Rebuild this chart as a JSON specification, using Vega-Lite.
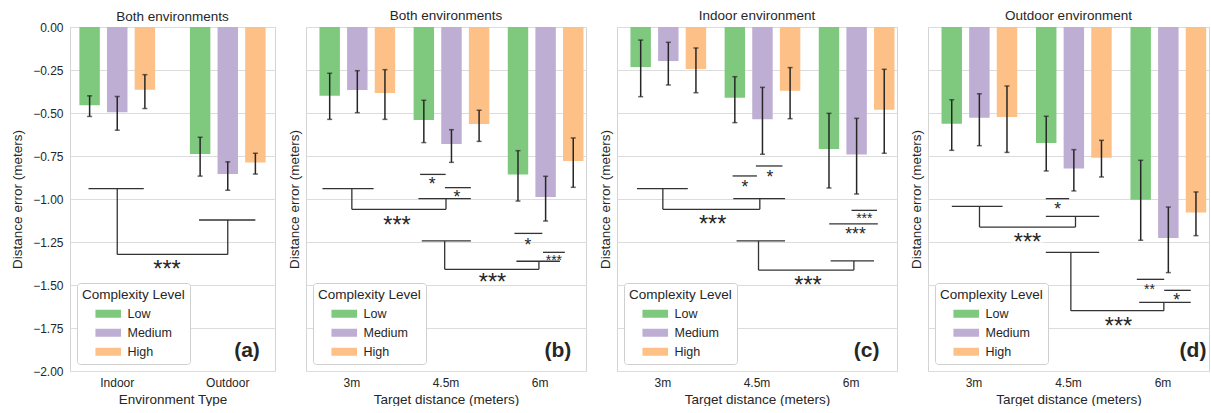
{
  "$schema": "https://vega.github.io/schema/vega-lite/v6.json",
  "padding": {"left": 10, "top": 8, "right": 0, "bottom": 0},
  "background": "white",
  "config": {
    "font": "Liberation Sans",
    "view": {"stroke": "#d4d4d4", "strokeWidth": 1},
    "axis": {"labelFontSize": 12, "labelColor": "#262626", "titleFontSize": 13.5, "titleFontWeight": "normal", "titleColor": "#262626", "ticks": false, "tickSize": 0, "domain": false, "gridColor": "#dcdcdc", "gridWidth": 1},
    "axisX": {"grid": false, "labelPadding": 6, "titlePadding": 4, "labelAngle": 0},
    "axisY": {"grid": true, "labelPadding": 7},
    "legend": {"orient": "bottom-left", "offset": 7, "fillColor": "white", "strokeColor": "#cfcfcf", "cornerRadius": 3, "padding": 5, "titleFontSize": 13.5, "titleFontWeight": "normal", "titleColor": "#262626", "titlePadding": 6, "labelFontSize": 12.5, "labelColor": "#262626", "labelOffset": 13, "symbolType": "M-2.56,-0.8H2.56V0.8H-2.56Z", "symbolSize": 100, "symbolOffset": 20, "symbolStrokeWidth": 0, "symbolOpacity": 1, "rowPadding": 6},
    "title": {"fontSize": 13.5, "fontWeight": "normal", "color": "#262626", "offset": 5, "baseline": "alphabetic", "frame": "group"}
  },
  "datasets": {
    "bars": [
      {"panel": "a", "cat": "Indoor", "level": "Low", "mean": -0.455, "hi": -0.400, "lo": -0.520},
      {"panel": "a", "cat": "Indoor", "level": "Medium", "mean": -0.495, "hi": -0.404, "lo": -0.600},
      {"panel": "a", "cat": "Indoor", "level": "High", "mean": -0.365, "hi": -0.277, "lo": -0.474},
      {"panel": "a", "cat": "Outdoor", "level": "Low", "mean": -0.739, "hi": -0.641, "lo": -0.867},
      {"panel": "a", "cat": "Outdoor", "level": "Medium", "mean": -0.854, "hi": -0.784, "lo": -0.949},
      {"panel": "a", "cat": "Outdoor", "level": "High", "mean": -0.788, "hi": -0.734, "lo": -0.855},
      {"panel": "b", "cat": "3m", "level": "Low", "mean": -0.399, "hi": -0.269, "lo": -0.537},
      {"panel": "b", "cat": "3m", "level": "Medium", "mean": -0.366, "hi": -0.254, "lo": -0.498},
      {"panel": "b", "cat": "3m", "level": "High", "mean": -0.384, "hi": -0.248, "lo": -0.537},
      {"panel": "b", "cat": "4.5m", "level": "Low", "mean": -0.541, "hi": -0.426, "lo": -0.672},
      {"panel": "b", "cat": "4.5m", "level": "Medium", "mean": -0.680, "hi": -0.597, "lo": -0.787},
      {"panel": "b", "cat": "4.5m", "level": "High", "mean": -0.564, "hi": -0.484, "lo": -0.665},
      {"panel": "b", "cat": "6m", "level": "Low", "mean": -0.857, "hi": -0.719, "lo": -1.012},
      {"panel": "b", "cat": "6m", "level": "Medium", "mean": -0.988, "hi": -0.868, "lo": -1.128},
      {"panel": "b", "cat": "6m", "level": "High", "mean": -0.779, "hi": -0.645, "lo": -0.932},
      {"panel": "c", "cat": "3m", "level": "Low", "mean": -0.233, "hi": -0.076, "lo": -0.405},
      {"panel": "c", "cat": "3m", "level": "Medium", "mean": -0.198, "hi": -0.089, "lo": -0.337},
      {"panel": "c", "cat": "3m", "level": "High", "mean": -0.244, "hi": -0.122, "lo": -0.382},
      {"panel": "c", "cat": "4.5m", "level": "Low", "mean": -0.411, "hi": -0.289, "lo": -0.556},
      {"panel": "c", "cat": "4.5m", "level": "Medium", "mean": -0.537, "hi": -0.351, "lo": -0.740},
      {"panel": "c", "cat": "4.5m", "level": "High", "mean": -0.370, "hi": -0.236, "lo": -0.533},
      {"panel": "c", "cat": "6m", "level": "Low", "mean": -0.709, "hi": -0.502, "lo": -0.936},
      {"panel": "c", "cat": "6m", "level": "Medium", "mean": -0.742, "hi": -0.531, "lo": -0.971},
      {"panel": "c", "cat": "6m", "level": "High", "mean": -0.481, "hi": -0.246, "lo": -0.734},
      {"panel": "d", "cat": "3m", "level": "Low", "mean": -0.562, "hi": -0.423, "lo": -0.717},
      {"panel": "d", "cat": "3m", "level": "Medium", "mean": -0.527, "hi": -0.388, "lo": -0.690},
      {"panel": "d", "cat": "3m", "level": "High", "mean": -0.523, "hi": -0.343, "lo": -0.729},
      {"panel": "d", "cat": "4.5m", "level": "Low", "mean": -0.674, "hi": -0.519, "lo": -0.837},
      {"panel": "d", "cat": "4.5m", "level": "Medium", "mean": -0.822, "hi": -0.713, "lo": -0.953},
      {"panel": "d", "cat": "4.5m", "level": "High", "mean": -0.760, "hi": -0.659, "lo": -0.872},
      {"panel": "d", "cat": "6m", "level": "Low", "mean": -1.004, "hi": -0.775, "lo": -1.240},
      {"panel": "d", "cat": "6m", "level": "Medium", "mean": -1.227, "hi": -1.047, "lo": -1.428},
      {"panel": "d", "cat": "6m", "level": "High", "mean": -1.078, "hi": -0.959, "lo": -1.213}
    ],
    "segs": [
      {"panel": "a", "x": -0.26, "x2": 0.24, "y": -0.940, "y2": -0.940},
      {"panel": "a", "x": 0, "x2": 0, "y": -0.940, "y2": -1.322},
      {"panel": "a", "x": 0.74, "x2": 1.25, "y": -1.122, "y2": -1.122},
      {"panel": "a", "x": 1, "x2": 1, "y": -1.122, "y2": -1.322},
      {"panel": "a", "x": 0, "x2": 1, "y": -1.322, "y2": -1.322},
      {"panel": "b", "x": 0.725, "x2": 0.996, "y": -0.857, "y2": -0.857},
      {"panel": "b", "x": 0.989, "x2": 1.264, "y": -0.934, "y2": -0.934},
      {"panel": "b", "x": 0.707, "x2": 1.264, "y": -0.998, "y2": -0.998},
      {"panel": "b", "x": 1.0, "x2": 1.0, "y": -0.998, "y2": -1.060},
      {"panel": "b", "x": -0.312, "x2": 0.231, "y": -0.940, "y2": -0.940},
      {"panel": "b", "x": 0, "x2": 0, "y": -0.940, "y2": -1.060},
      {"panel": "b", "x": 0, "x2": 1.0, "y": -1.060, "y2": -1.060},
      {"panel": "b", "x": 0.743, "x2": 1.264, "y": -1.244, "y2": -1.244},
      {"panel": "b", "x": 0.986, "x2": 0.986, "y": -1.244, "y2": -1.409},
      {"panel": "b", "x": 1.727, "x2": 2.023, "y": -1.200, "y2": -1.200},
      {"panel": "b", "x": 2.03, "x2": 2.262, "y": -1.310, "y2": -1.310},
      {"panel": "b", "x": 1.748, "x2": 2.21, "y": -1.362, "y2": -1.362},
      {"panel": "b", "x": 1.987, "x2": 1.987, "y": -1.362, "y2": -1.409},
      {"panel": "b", "x": 0.986, "x2": 1.987, "y": -1.409, "y2": -1.409},
      {"panel": "c", "x": 0.741, "x2": 0.999, "y": -0.866, "y2": -0.866},
      {"panel": "c", "x": 0.988, "x2": 1.270, "y": -0.808, "y2": -0.808},
      {"panel": "c", "x": -0.275, "x2": 0.265, "y": -0.940, "y2": -0.940},
      {"panel": "c", "x": 0, "x2": 0, "y": -0.940, "y2": -1.060},
      {"panel": "c", "x": 0.748, "x2": 1.298, "y": -0.998, "y2": -0.998},
      {"panel": "c", "x": 1.03, "x2": 1.03, "y": -0.998, "y2": -1.060},
      {"panel": "c", "x": 0, "x2": 1.03, "y": -1.060, "y2": -1.060},
      {"panel": "c", "x": 2.004, "x2": 2.275, "y": -1.066, "y2": -1.066},
      {"panel": "c", "x": 1.767, "x2": 2.283, "y": -1.145, "y2": -1.145},
      {"panel": "c", "x": 0.783, "x2": 1.298, "y": -1.244, "y2": -1.244},
      {"panel": "c", "x": 1.016, "x2": 1.016, "y": -1.244, "y2": -1.413},
      {"panel": "c", "x": 1.782, "x2": 2.243, "y": -1.360, "y2": -1.360},
      {"panel": "c", "x": 2.029, "x2": 2.029, "y": -1.360, "y2": -1.413},
      {"panel": "c", "x": 1.016, "x2": 2.029, "y": -1.413, "y2": -1.413},
      {"panel": "d", "x": 0.760, "x2": 1.007, "y": -0.998, "y2": -0.998},
      {"panel": "d", "x": 0.760, "x2": 1.325, "y": -1.101, "y2": -1.101},
      {"panel": "d", "x": 1.074, "x2": 1.074, "y": -1.101, "y2": -1.163},
      {"panel": "d", "x": -0.235, "x2": 0.302, "y": -1.043, "y2": -1.043},
      {"panel": "d", "x": 0.058, "x2": 0.058, "y": -1.043, "y2": -1.163},
      {"panel": "d", "x": 0.058, "x2": 1.074, "y": -1.163, "y2": -1.163},
      {"panel": "d", "x": 0.760, "x2": 1.325, "y": -1.310, "y2": -1.310},
      {"panel": "d", "x": 1.025, "x2": 1.025, "y": -1.310, "y2": -1.649},
      {"panel": "d", "x": 1.723, "x2": 2.013, "y": -1.467, "y2": -1.467},
      {"panel": "d", "x": 2.013, "x2": 2.294, "y": -1.531, "y2": -1.531},
      {"panel": "d", "x": 1.748, "x2": 2.294, "y": -1.601, "y2": -1.601},
      {"panel": "d", "x": 2.009, "x2": 2.009, "y": -1.601, "y2": -1.649},
      {"panel": "d", "x": 1.025, "x2": 2.009, "y": -1.649, "y2": -1.649}
    ],
    "stars": [
      {"panel": "a", "x": 0.45, "y": -1.378, "text": "***", "tier": "overall"},
      {"panel": "b", "x": 0.852, "y": -0.890, "text": "*", "tier": "pairwise"},
      {"panel": "b", "x": 1.116, "y": -0.965, "text": "*", "tier": "pairwise"},
      {"panel": "b", "x": 0.48, "y": -1.120, "text": "***", "tier": "overall"},
      {"panel": "b", "x": 1.871, "y": -1.242, "text": "*", "tier": "pairwise"},
      {"panel": "b", "x": 2.146, "y": -1.335, "text": "***", "tier": "narrow"},
      {"panel": "b", "x": 1.494, "y": -1.451, "text": "***", "tier": "overall"},
      {"panel": "c", "x": 0.872, "y": -0.905, "text": "*", "tier": "pairwise"},
      {"panel": "c", "x": 1.136, "y": -0.847, "text": "*", "tier": "pairwise"},
      {"panel": "c", "x": 0.529, "y": -1.116, "text": "***", "tier": "overall"},
      {"panel": "c", "x": 2.14, "y": -1.093, "text": "***", "tier": "narrow"},
      {"panel": "c", "x": 2.046, "y": -1.178, "text": "***", "tier": "pairwise"},
      {"panel": "c", "x": 1.542, "y": -1.467, "text": "***", "tier": "overall"},
      {"panel": "d", "x": 0.884, "y": -1.033, "text": "*", "tier": "pairwise"},
      {"panel": "d", "x": 0.566, "y": -1.221, "text": "***", "tier": "overall"},
      {"panel": "d", "x": 1.857, "y": -1.506, "text": "**", "tier": "narrow"},
      {"panel": "d", "x": 2.146, "y": -1.564, "text": "*", "tier": "pairwise"},
      {"panel": "d", "x": 1.529, "y": -1.707, "text": "***", "tier": "overall"}
    ],
    "tags": [
      {"panel": "a", "x": 1.29, "y": -1.921, "text": "(a)"},
      {"panel": "b", "x": 2.33, "y": -1.921, "text": "(b)"},
      {"panel": "c", "x": 2.30, "y": -1.921, "text": "(c)"},
      {"panel": "d", "x": 2.46, "y": -1.921, "text": "(d)"}
    ]
  },
  "spacing": 10,
  "resolve": {"scale": {"color": "independent"}, "legend": {"color": "independent"}},
  "hconcat": [
    {
      "width": 205, "height": 344,
      "title": {"text": "Both environments", "offset": -2},
      "resolve": {"scale": {"x": "independent"}},
      "layer": [
        {
          "data": {"name": "bars"},
          "transform": [{"filter": "datum.panel === 'a'"}],
          "encoding": {
            "x": {"field": "cat", "type": "nominal", "sort": ["Indoor", "Outdoor"], "scale": {"paddingInner": 0.315, "paddingOuter": 0.085}, "axis": {"title": "Environment Type"}},
            "xOffset": {"field": "level", "type": "nominal", "sort": ["Low", "Medium", "High"], "scale": {"paddingInner": 0.26, "paddingOuter": 0}}
          },
          "layer": [
            {"mark": {"type": "bar"}, "encoding": {
              "y": {"field": "mean", "type": "quantitative", "scale": {"domain": [-2, 0], "nice": false}, "axis": {"title": "Distance error (meters)", "format": ".2f", "values": [0, -0.25, -0.5, -0.75, -1, -1.25, -1.5, -1.75, -2], "titlePadding": 8}},
              "color": {"field": "level", "type": "nominal", "sort": ["Low", "Medium", "High"], "scale": {"domain": ["Low", "Medium", "High"], "range": ["#7fc97f", "#beaed4", "#fdc086"]}, "legend": {"title": "Complexity Level"}}
            }},
            {"mark": {"type": "rule", "color": "#262626", "strokeWidth": 1.5}, "encoding": {"y": {"field": "lo", "type": "quantitative"}, "y2": {"field": "hi"}}},
            {"mark": {"type": "tick", "color": "#262626", "thickness": 1.5, "size": 5}, "encoding": {"y": {"field": "lo", "type": "quantitative"}}},
            {"mark": {"type": "tick", "color": "#262626", "thickness": 1.5, "size": 5}, "encoding": {"y": {"field": "hi", "type": "quantitative"}}}
          ]
        },
        {
          "encoding": {
            "x": {"field": "x", "type": "quantitative", "scale": {"domain": [-0.4275, 1.4275], "nice": false, "zero": false}, "axis": null},
            "y": {"field": "y", "type": "quantitative"}
          },
          "layer": [
            {"data": {"name": "segs"}, "transform": [{"filter": "datum.panel === 'a'"}], "mark": {"type": "rule", "color": "#333333", "strokeWidth": 1.3}, "encoding": {"x2": {"field": "x2"}, "y2": {"field": "y2"}}},
            {"data": {"name": "stars"}, "transform": [{"filter": "datum.panel === 'a' && datum.tier === 'overall'"}], "mark": {"type": "point", "shape": "M-2.9,-1H2.9V1H-2.9Z", "size": 121, "filled": true, "color": "white", "opacity": 1, "strokeWidth": 0}, "encoding": {}},
            {"data": {"name": "stars"}, "transform": [{"filter": "datum.panel === 'a' && datum.tier === 'overall'"}], "mark": {"type": "text", "fontSize": 23.5, "dy": 13.4, "baseline": "alphabetic", "color": "#262626"}, "encoding": {"text": {"field": "text"}}},
            {"data": {"name": "tags"}, "transform": [{"filter": "datum.panel === 'a'"}], "mark": {"type": "text", "fontSize": 21, "fontWeight": "bold", "align": "right", "baseline": "alphabetic", "color": "#262626"}, "encoding": {"text": {"field": "text"}}}
          ]
        }
      ]
    },
    {
      "width": 280, "height": 344,
      "title": {"text": "Both environments"},
      "resolve": {"scale": {"x": "independent"}},
      "layer": [
        {
          "data": {"name": "bars"},
          "transform": [{"filter": "datum.panel === 'b'"}],
          "encoding": {
            "x": {"field": "cat", "type": "nominal", "sort": ["3m", "4.5m", "6m"], "scale": {"paddingInner": 0.312, "paddingOuter": 0.143}, "axis": {"title": "Target distance (meters)"}},
            "xOffset": {"field": "level", "type": "nominal", "sort": ["Low", "Medium", "High"], "scale": {"paddingInner": 0.277, "paddingOuter": 0}}
          },
          "layer": [
            {"mark": {"type": "bar"}, "encoding": {
              "y": {"field": "mean", "type": "quantitative", "scale": {"domain": [-2, 0], "nice": false}, "axis": {"title": "Distance error (meters)", "labels": false, "values": [0, -0.25, -0.5, -0.75, -1, -1.25, -1.5, -1.75, -2], "titlePadding": 5}},
              "color": {"field": "level", "type": "nominal", "sort": ["Low", "Medium", "High"], "scale": {"domain": ["Low", "Medium", "High"], "range": ["#7fc97f", "#beaed4", "#fdc086"]}, "legend": {"title": "Complexity Level"}}
            }},
            {"mark": {"type": "rule", "color": "#262626", "strokeWidth": 1.5}, "encoding": {"y": {"field": "lo", "type": "quantitative"}, "y2": {"field": "hi"}}},
            {"mark": {"type": "tick", "color": "#262626", "thickness": 1.5, "size": 5}, "encoding": {"y": {"field": "lo", "type": "quantitative"}}},
            {"mark": {"type": "tick", "color": "#262626", "thickness": 1.5, "size": 5}, "encoding": {"y": {"field": "hi", "type": "quantitative"}}}
          ]
        },
        {
          "encoding": {
            "x": {"field": "x", "type": "quantitative", "scale": {"domain": [-0.487, 2.487], "nice": false, "zero": false}, "axis": null},
            "y": {"field": "y", "type": "quantitative"}
          },
          "layer": [
            {"data": {"name": "segs"}, "transform": [{"filter": "datum.panel === 'b'"}], "mark": {"type": "rule", "color": "#333333", "strokeWidth": 1.3}, "encoding": {"x2": {"field": "x2"}, "y2": {"field": "y2"}}},
            {"data": {"name": "stars"}, "transform": [{"filter": "datum.panel === 'b' && datum.tier === 'overall'"}], "mark": {"type": "point", "shape": "M-2.9,-1H2.9V1H-2.9Z", "size": 121, "filled": true, "color": "white", "opacity": 1, "strokeWidth": 0}, "encoding": {}},
            {"data": {"name": "stars"}, "transform": [{"filter": "datum.panel === 'b' && datum.tier === 'overall'"}], "mark": {"type": "text", "fontSize": 23.5, "dy": 13.4, "baseline": "alphabetic", "color": "#262626"}, "encoding": {"text": {"field": "text"}}},
            {"data": {"name": "stars"}, "transform": [{"filter": "datum.panel === 'b' && datum.tier === 'pairwise'"}], "mark": {"type": "text", "fontSize": 17.5, "dy": 10, "baseline": "alphabetic", "color": "#262626"}, "encoding": {"text": {"field": "text"}}},
            {"data": {"name": "stars"}, "transform": [{"filter": "datum.panel === 'b' && datum.tier === 'narrow'"}], "mark": {"type": "text", "fontSize": 14, "dy": 8, "baseline": "alphabetic", "color": "#262626"}, "encoding": {"text": {"field": "text"}}},
            {"data": {"name": "tags"}, "transform": [{"filter": "datum.panel === 'b'"}], "mark": {"type": "text", "fontSize": 21, "fontWeight": "bold", "align": "right", "baseline": "alphabetic", "color": "#262626"}, "encoding": {"text": {"field": "text"}}}
          ]
        }
      ]
    },
    {
      "width": 280, "height": 344,
      "title": {"text": "Indoor environment"},
      "resolve": {"scale": {"x": "independent"}},
      "layer": [
        {
          "data": {"name": "bars"},
          "transform": [{"filter": "datum.panel === 'c'"}],
          "encoding": {
            "x": {"field": "cat", "type": "nominal", "sort": ["3m", "4.5m", "6m"], "scale": {"paddingInner": 0.312, "paddingOuter": 0.143}, "axis": {"title": "Target distance (meters)"}},
            "xOffset": {"field": "level", "type": "nominal", "sort": ["Low", "Medium", "High"], "scale": {"paddingInner": 0.277, "paddingOuter": 0}}
          },
          "layer": [
            {"mark": {"type": "bar"}, "encoding": {
              "y": {"field": "mean", "type": "quantitative", "scale": {"domain": [-2, 0], "nice": false}, "axis": {"title": "Distance error (meters)", "labels": false, "values": [0, -0.25, -0.5, -0.75, -1, -1.25, -1.5, -1.75, -2], "titlePadding": 5}},
              "color": {"field": "level", "type": "nominal", "sort": ["Low", "Medium", "High"], "scale": {"domain": ["Low", "Medium", "High"], "range": ["#7fc97f", "#beaed4", "#fdc086"]}, "legend": {"title": "Complexity Level"}}
            }},
            {"mark": {"type": "rule", "color": "#262626", "strokeWidth": 1.5}, "encoding": {"y": {"field": "lo", "type": "quantitative"}, "y2": {"field": "hi"}}},
            {"mark": {"type": "tick", "color": "#262626", "thickness": 1.5, "size": 5}, "encoding": {"y": {"field": "lo", "type": "quantitative"}}},
            {"mark": {"type": "tick", "color": "#262626", "thickness": 1.5, "size": 5}, "encoding": {"y": {"field": "hi", "type": "quantitative"}}}
          ]
        },
        {
          "encoding": {
            "x": {"field": "x", "type": "quantitative", "scale": {"domain": [-0.487, 2.487], "nice": false, "zero": false}, "axis": null},
            "y": {"field": "y", "type": "quantitative"}
          },
          "layer": [
            {"data": {"name": "segs"}, "transform": [{"filter": "datum.panel === 'c'"}], "mark": {"type": "rule", "color": "#333333", "strokeWidth": 1.3}, "encoding": {"x2": {"field": "x2"}, "y2": {"field": "y2"}}},
            {"data": {"name": "stars"}, "transform": [{"filter": "datum.panel === 'c' && datum.tier === 'overall'"}], "mark": {"type": "point", "shape": "M-2.9,-1H2.9V1H-2.9Z", "size": 121, "filled": true, "color": "white", "opacity": 1, "strokeWidth": 0}, "encoding": {}},
            {"data": {"name": "stars"}, "transform": [{"filter": "datum.panel === 'c' && datum.tier === 'overall'"}], "mark": {"type": "text", "fontSize": 23.5, "dy": 13.4, "baseline": "alphabetic", "color": "#262626"}, "encoding": {"text": {"field": "text"}}},
            {"data": {"name": "stars"}, "transform": [{"filter": "datum.panel === 'c' && datum.tier === 'pairwise'"}], "mark": {"type": "text", "fontSize": 17.5, "dy": 10, "baseline": "alphabetic", "color": "#262626"}, "encoding": {"text": {"field": "text"}}},
            {"data": {"name": "stars"}, "transform": [{"filter": "datum.panel === 'c' && datum.tier === 'narrow'"}], "mark": {"type": "text", "fontSize": 14, "dy": 8, "baseline": "alphabetic", "color": "#262626"}, "encoding": {"text": {"field": "text"}}},
            {"data": {"name": "tags"}, "transform": [{"filter": "datum.panel === 'c'"}], "mark": {"type": "text", "fontSize": 21, "fontWeight": "bold", "align": "right", "baseline": "alphabetic", "color": "#262626"}, "encoding": {"text": {"field": "text"}}}
          ]
        }
      ]
    },
    {
      "width": 281, "height": 344,
      "title": {"text": "Outdoor environment"},
      "resolve": {"scale": {"x": "independent"}},
      "layer": [
        {
          "data": {"name": "bars"},
          "transform": [{"filter": "datum.panel === 'd'"}],
          "encoding": {
            "x": {"field": "cat", "type": "nominal", "sort": ["3m", "4.5m", "6m"], "scale": {"paddingInner": 0.312, "paddingOuter": 0.143}, "axis": {"title": "Target distance (meters)"}},
            "xOffset": {"field": "level", "type": "nominal", "sort": ["Low", "Medium", "High"], "scale": {"paddingInner": 0.277, "paddingOuter": 0}}
          },
          "layer": [
            {"mark": {"type": "bar"}, "encoding": {
              "y": {"field": "mean", "type": "quantitative", "scale": {"domain": [-2, 0], "nice": false}, "axis": {"title": "Distance error (meters)", "labels": false, "values": [0, -0.25, -0.5, -0.75, -1, -1.25, -1.5, -1.75, -2], "titlePadding": 5}},
              "color": {"field": "level", "type": "nominal", "sort": ["Low", "Medium", "High"], "scale": {"domain": ["Low", "Medium", "High"], "range": ["#7fc97f", "#beaed4", "#fdc086"]}, "legend": {"title": "Complexity Level"}}
            }},
            {"mark": {"type": "rule", "color": "#262626", "strokeWidth": 1.5}, "encoding": {"y": {"field": "lo", "type": "quantitative"}, "y2": {"field": "hi"}}},
            {"mark": {"type": "tick", "color": "#262626", "thickness": 1.5, "size": 5}, "encoding": {"y": {"field": "lo", "type": "quantitative"}}},
            {"mark": {"type": "tick", "color": "#262626", "thickness": 1.5, "size": 5}, "encoding": {"y": {"field": "hi", "type": "quantitative"}}}
          ]
        },
        {
          "encoding": {
            "x": {"field": "x", "type": "quantitative", "scale": {"domain": [-0.487, 2.487], "nice": false, "zero": false}, "axis": null},
            "y": {"field": "y", "type": "quantitative"}
          },
          "layer": [
            {"data": {"name": "segs"}, "transform": [{"filter": "datum.panel === 'd'"}], "mark": {"type": "rule", "color": "#333333", "strokeWidth": 1.3}, "encoding": {"x2": {"field": "x2"}, "y2": {"field": "y2"}}},
            {"data": {"name": "stars"}, "transform": [{"filter": "datum.panel === 'd' && datum.tier === 'overall'"}], "mark": {"type": "point", "shape": "M-2.9,-1H2.9V1H-2.9Z", "size": 121, "filled": true, "color": "white", "opacity": 1, "strokeWidth": 0}, "encoding": {}},
            {"data": {"name": "stars"}, "transform": [{"filter": "datum.panel === 'd' && datum.tier === 'overall'"}], "mark": {"type": "text", "fontSize": 23.5, "dy": 13.4, "baseline": "alphabetic", "color": "#262626"}, "encoding": {"text": {"field": "text"}}},
            {"data": {"name": "stars"}, "transform": [{"filter": "datum.panel === 'd' && datum.tier === 'pairwise'"}], "mark": {"type": "text", "fontSize": 17.5, "dy": 10, "baseline": "alphabetic", "color": "#262626"}, "encoding": {"text": {"field": "text"}}},
            {"data": {"name": "stars"}, "transform": [{"filter": "datum.panel === 'd' && datum.tier === 'narrow'"}], "mark": {"type": "text", "fontSize": 14, "dy": 8, "baseline": "alphabetic", "color": "#262626"}, "encoding": {"text": {"field": "text"}}},
            {"data": {"name": "tags"}, "transform": [{"filter": "datum.panel === 'd'"}], "mark": {"type": "text", "fontSize": 21, "fontWeight": "bold", "align": "right", "baseline": "alphabetic", "color": "#262626"}, "encoding": {"text": {"field": "text"}}}
          ]
        }
      ]
    }
  ]
}
